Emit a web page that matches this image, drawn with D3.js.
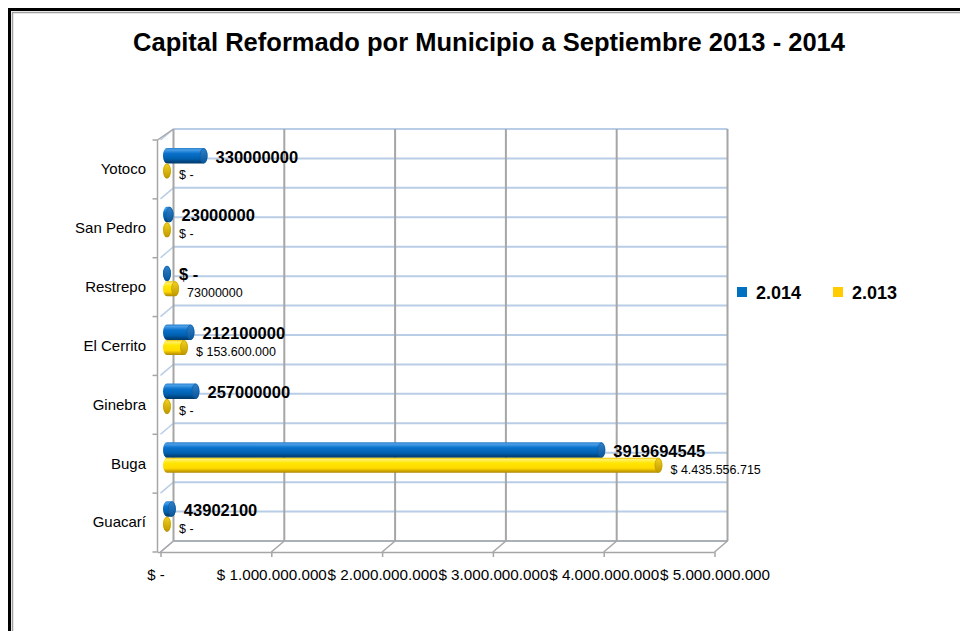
<!DOCTYPE html>
<html><head><meta charset="utf-8">
<script src="https://cdn.jsdelivr.net/npm/d3@7"></script>
<style>
body{margin:0;background:#fff}
svg{display:block}
text{font-family:"Liberation Sans",Arial,sans-serif;fill:#000}
</style>
</head><body>
<svg id="c" width="960" height="631"></svg>
<script>
// ---- data ----
const categories = ["Yotoco","San Pedro","Restrepo","El Cerrito","Ginebra","Buga","Guacarí"];
const values2014 = [330000000, 23000000, 0, 212100000, 257000000, 3919694545, 43902100];
const values2013 = [0, 0, 73000000, 153600000, 0, 4435556715, 0];
const labels2014 = ["330000000","23000000","$ -","212100000","257000000","3919694545","43902100"];
const labels2013 = ["$ -","$ -","73000000","$ 153.600.000","$ -","$ 4.435.556.715","$ -"];
const tickValues = [0, 1e9, 2e9, 3e9, 4e9, 5e9];
const tickLabels = ["$ -","$ 1.000.000.000","$ 2.000.000.000","$ 3.000.000.000","$ 4.000.000.000","$ 5.000.000.000"];
const seriesNames = ["2.014","2.013"];
const titleText = "Capital Reformado por Municipio a Septiembre 2013 - 2014";

// ---- layout ----
const svg = d3.select("#c");
const DX = 13, DY = -11;                 // 3D depth offset
const xFront = d3.scaleLinear().domain([0, 5e9]).range([160.5, 714.5]);
const xBar = d3.scaleLinear().domain([0, 5e9]).range([167, 721]);
const yBand = d3.scaleBand().domain(categories).range([140, 552]);
const yTop = 140, yBot = 552;

// frame
svg.append("path").attr("d","M9.5,631 L9.5,9.5 L960,9.5").attr("fill","none").attr("stroke","#000").attr("stroke-width",3);
svg.append("path").attr("d","M12.5,631 L12.5,12.5 L960,12.5").attr("fill","none").attr("stroke","#a0a0a0").attr("stroke-width",1.5);

// title
svg.append("text").attr("x",489).attr("y",51).attr("text-anchor","middle")
  .attr("font-size",26).attr("font-weight","bold")
  .attr("textLength",712).attr("lengthAdjust","spacingAndGlyphs").text(titleText);

// defs: gradients
const defs = svg.append("defs");
function grad(id, stops){
  const g = defs.append("linearGradient").attr("id",id).attr("x1",0).attr("y1",0).attr("x2",0).attr("y2",1);
  stops.forEach(s=>g.append("stop").attr("offset",s[0]).attr("stop-color",s[1]));
}
grad("gBlue",[[0,"#2a7fcc"],[0.12,"#4a9ee6"],[0.35,"#0a72cc"],[0.7,"#005fae"],[0.88,"#00457f"],[1,"#003a6c"]]);
grad("gYel",[[0,"#e6c200"],[0.12,"#fff06a"],[0.35,"#ffe600"],[0.7,"#ffd900"],[0.88,"#cfa500"],[1,"#a98800"]]);
grad("gBlueCap",[[0,"#2f80c8"],[1,"#0a559a"]]);
grad("gYelCap",[[0,"#f2d020"],[1,"#c09a00"]]);

const grid = svg.append("g");
const backW = xFront(5e9) + DX;
const half = yBand.bandwidth()/2;
// blue horizontal gridlines on back wall (every half band)
for(let k=0;k<=categories.length*2;k++){
  const y = yTop + DY + k*half;
  grid.append("line").attr("x1",xFront(0)+DX).attr("x2",backW).attr("y1",y).attr("y2",y)
    .attr("stroke","#b9cde6").attr("stroke-width",2);
}
// diagonals on side wall at category boundaries
for(let k=0;k<=categories.length;k++){
  const y = yTop + k*yBand.bandwidth();
  grid.append("line").attr("x1",xFront(0)).attr("y1",y).attr("x2",xFront(0)+DX).attr("y2",y+DY)
    .attr("stroke","#b9cde6").attr("stroke-width",1.5);
}
// vertical grey gridlines on back wall + floor diagonals
tickValues.forEach(v=>{
  const xb = xFront(v)+DX;
  grid.append("line").attr("x1",xb).attr("x2",xb).attr("y1",yTop+DY).attr("y2",yBot+DY)
    .attr("stroke","#a6a6a6").attr("stroke-width",2);
  grid.append("line").attr("x1",xFront(v)).attr("y1",yBot).attr("x2",xb).attr("y2",yBot+DY)
    .attr("stroke","#a6a6a6").attr("stroke-width",1.5);
});
grid.append("line").attr("x1",xFront(0)+DX).attr("x2",backW).attr("y1",yBot+DY).attr("y2",yBot+DY)
  .attr("stroke","#a6a6a6").attr("stroke-width",1.5);
// front-left vertical axis line and top diagonal
grid.append("line").attr("x1",xFront(0)-3).attr("x2",xFront(0)-3).attr("y1",yTop).attr("y2",yBot)
  .attr("stroke","#a6a6a6").attr("stroke-width",1.5);
grid.append("line").attr("x1",xFront(0)-3).attr("y1",yTop).attr("x2",xFront(0)+DX).attr("y2",yTop+DY)
  .attr("stroke","#a6a6a6").attr("stroke-width",1.5);
// category ticks at boundaries
for(let k=0;k<=categories.length;k++){
  const y = yTop + k*yBand.bandwidth();
  grid.append("line").attr("x1",xFront(0)-8).attr("x2",xFront(0)-3).attr("y1",y).attr("y2",y)
    .attr("stroke","#a6a6a6").attr("stroke-width",1.5);
}

// x axis (front)
const xAxis = d3.axisBottom(xFront).tickValues(tickValues).tickSize(5).tickPadding(12)
  .tickFormat((d,i)=>tickLabels[i]);
const gx = svg.append("g").attr("transform",`translate(0,${yBot})`).call(xAxis);
gx.select(".domain").attr("stroke","#a6a6a6").attr("stroke-width",1.5).attr("d",`M${xFront(0)-3},0.5H${xFront(5e9)}`);
gx.selectAll(".tick line").attr("stroke","#a6a6a6").attr("stroke-width",1.5);
gx.selectAll(".tick text").attr("font-size",15).attr("font-family","Liberation Sans, Arial, sans-serif").attr("fill","#000")
  .attr("textLength",(d,i)=> i===0 ? null : 110).attr("lengthAdjust","spacingAndGlyphs")
  .attr("dx",(d,i)=> i===0 ? -5 : 0);

// y axis (category labels)
const yAxis = d3.axisLeft(yBand).tickSize(0).tickPadding(0);
const gy = svg.append("g").attr("transform",`translate(146,0)`).call(yAxis);
gy.select(".domain").remove();
gy.selectAll(".tick text").attr("font-size",15).attr("font-family","Liberation Sans, Arial, sans-serif").attr("fill","#000");

// bars
const RX = 4;
function cylinder(g, x0, x1, y, h, body, cap){
  const ry = h/2;
  g.append("path")
    .attr("d",`M${x0},${y} L${x1},${y} A${RX},${ry} 0 0 1 ${x1},${y+h} L${x0},${y+h} A${RX},${ry} 0 0 1 ${x0},${y} Z`)
    .attr("fill",`url(#${body})`);
  g.append("ellipse").attr("cx",x1).attr("cy",y+ry).attr("rx",RX-0.5).attr("ry",ry-0.5).attr("fill",`url(#${cap})`)
    .attr("stroke", body==="gBlue" ? "#0a5aa0" : "#b89400").attr("stroke-width",0.6);
}
const bars = svg.append("g");
const labelsG = svg.append("g");
categories.forEach((c,i)=>{
  const b = yBand(c);
  const yb = b + 8, hb = 15.5;
  const yy = b + 23.5, hy = 15;
  cylinder(bars, xBar(0), xBar(values2014[i]), yb, hb, "gBlue","gBlueCap");
  cylinder(bars, xBar(0), xBar(values2013[i]), yy, hy, "gYel","gYelCap");
  labelsG.append("text").attr("x", xBar(values2014[i]) + RX + 8).attr("y", yb + hb/2 + 1).attr("dy","0.35em")
    .attr("font-size",16.5).attr("font-weight","bold").text(labels2014[i]);
  labelsG.append("text").attr("x", xBar(values2013[i]) + RX + 8).attr("y", yy + hy/2 + 4).attr("dy","0.35em")
    .attr("font-size",12.5).text(labels2013[i]);
});

// legend
const legendColors = ["#0070c0","#ffcc00"];
const legendX = [737, 833];
seriesNames.forEach((s,i)=>{
  svg.append("rect").attr("x",legendX[i]).attr("y",287).attr("width",10).attr("height",10).attr("fill",legendColors[i]);
  svg.append("text").attr("x",legendX[i]+19).attr("y",299).attr("font-size",18).attr("font-weight","bold").text(s);
});
</script>
</body></html>
